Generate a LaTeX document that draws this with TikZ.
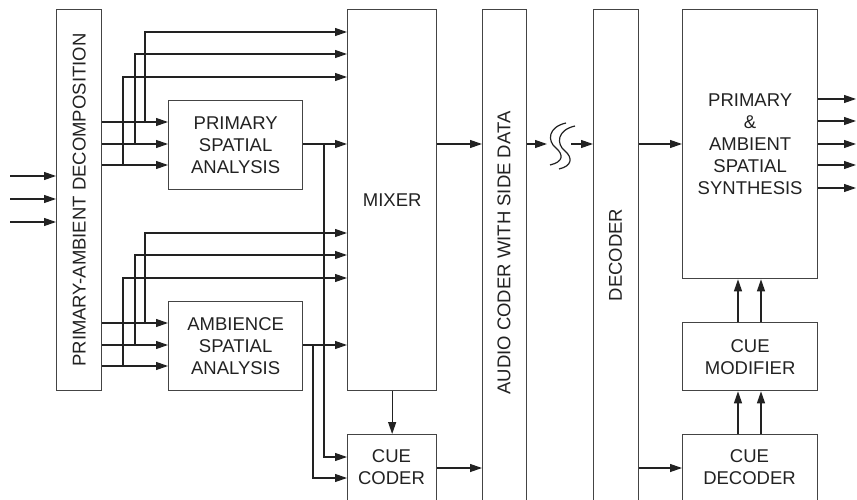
\documentclass[tikz,border=0pt]{standalone}
\usepackage{fontspec}
\setmainfont{Liberation Sans}
\usetikzlibrary{arrows.meta}
\definecolor{ln}{HTML}{222222}
\definecolor{bx}{HTML}{444444}
\begin{document}
\begin{tikzpicture}[x=1pt,y=-1pt,
  box/.style={draw=bx, line width=1.3pt, rectangle, inner sep=0pt, anchor=north west,
    font=\fontsize{18.5}{22}\selectfont, text=ln, align=center},
  lbl/.style={font=\fontsize{18.5}{22}\selectfont, text=ln, align=center, inner sep=0pt},
  arr/.style={draw=ln, line width=1.2pt, -{Triangle[length=12pt,width=8pt]}},
  squig/.style={draw=ln, line width=1.2pt}
]
\useasboundingbox (0,0) rectangle (857,500);
\fill[white] (0,0) rectangle (857,500);
\clip (0,0) rectangle (857,500);

% boxes
\node[box, minimum width=45pt, minimum height=381pt] (pad) at (56,9) {};
\node[lbl, rotate=90] (padt) at (pad.center) {PRIMARY-AMBIENT DECOMPOSITION};
\node[box, minimum width=134pt, minimum height=89pt] (psa) at (168,100) {PRIMARY\\SPATIAL\\ANALYSIS};
\node[box, minimum width=134pt, minimum height=89pt] (asa) at (168,301) {AMBIENCE\\SPATIAL\\ANALYSIS};
\node[box, minimum width=89pt, minimum height=381pt] (mix) at (347,9) {MIXER};
\node[box, minimum width=89pt, minimum height=106pt] (cc) at (347,434) {};
\node[lbl] (cct) at (391.5,467) {CUE\\CODER};
\node[box, minimum width=44pt, minimum height=531pt] (ac) at (482,9) {};
\node[lbl, rotate=90] (act) at (504,253) {AUDIO CODER WITH SIDE DATA};
\node[box, minimum width=45pt, minimum height=531pt] (dec) at (593,9) {};
\node[lbl, rotate=90] (dect) at (615.5,255) {DECODER};
\node[box, minimum width=135pt, minimum height=269pt] (syn) at (682,9) {PRIMARY\\\&\\AMBIENT\\SPATIAL\\SYNTHESIS};
\node[box, minimum width=135pt, minimum height=68pt] (cm) at (682,322) {CUE\\MODIFIER};
\node[box, minimum width=135pt, minimum height=106pt] (cd) at (682,434) {};
\node[lbl] (cdt) at (749.5,467) {CUE\\DECODER};

% inputs
\foreach \y/\n in {176/a,199/b,222/c}{
  \coordinate (in\n) at (10,\y);
  \draw[arr] (in\n) -- (pad.west |- in\n);
}

% pad -> analysis boxes and branches to mixer
\foreach \b/\o in {psa/0,asa/201}{
  \foreach \y/\xb/\ty in {122/145/32,144/135/54,165/123/77}{
    \coordinate (j) at (\xb,\y+\o);
    \draw[arr] (pad.east |- j) -- (\b.west |- j);
    \draw[arr] (j) |- (mix.west |- 0,\ty+\o);
  }
}

% analysis outputs
\draw[arr] (psa.east |- 0,144) -- (mix.west |- 0,144);
\coordinate (jp) at (324,144);
\draw[arr] (jp) |- (cc.west |- 0,457);
\draw[arr] (asa.east |- 0,345) -- (mix.west |- 0,345);
\coordinate (ja) at (313,345);
\draw[arr] (ja) |- (cc.west |- 0,478);

% mixer / cue coder to audio coder
\draw[arr] (mix.south) -- (cc.north);
\draw[arr] (mix.east |- 0,144) -- (ac.west |- 0,144);
\draw[arr] (cc.east |- 0,468) -- (ac.west |- 0,468);

% channel with break
\coordinate (chA) at (547,144);
\coordinate (chB) at (571,144);
\draw[arr] (ac.east |- chA) -- (chA);
\draw[arr] (chB) -- (dec.west |- chB);
\draw[squig] (566,123) .. controls (548,127) and (547,141) .. (556,148) .. controls (564,155) and (563,162) .. (550,165);
\draw[squig] (575,126) .. controls (557,130) and (556,144) .. (565,151) .. controls (573,158) and (572,166) .. (559,169);

% decoder side
\draw[arr] (dec.east |- 0,144) -- (syn.west |- 0,144);
\draw[arr] (dec.east |- 0,468) -- (cd.west |- 0,468);
\foreach \x in {738,761}{
  \draw[arr] (cd.north -| \x,0) -- (cm.south -| \x,0);
  \draw[arr] (cm.north -| \x,0) -- (syn.south -| \x,0);
}

% outputs
\foreach \y/\n in {99/a,121/b,144/c,165/d,188/e}{
  \coordinate (out\n) at (856,\y);
  \draw[arr] (syn.east |- out\n) -- (out\n);
}
\end{tikzpicture}
\end{document}
